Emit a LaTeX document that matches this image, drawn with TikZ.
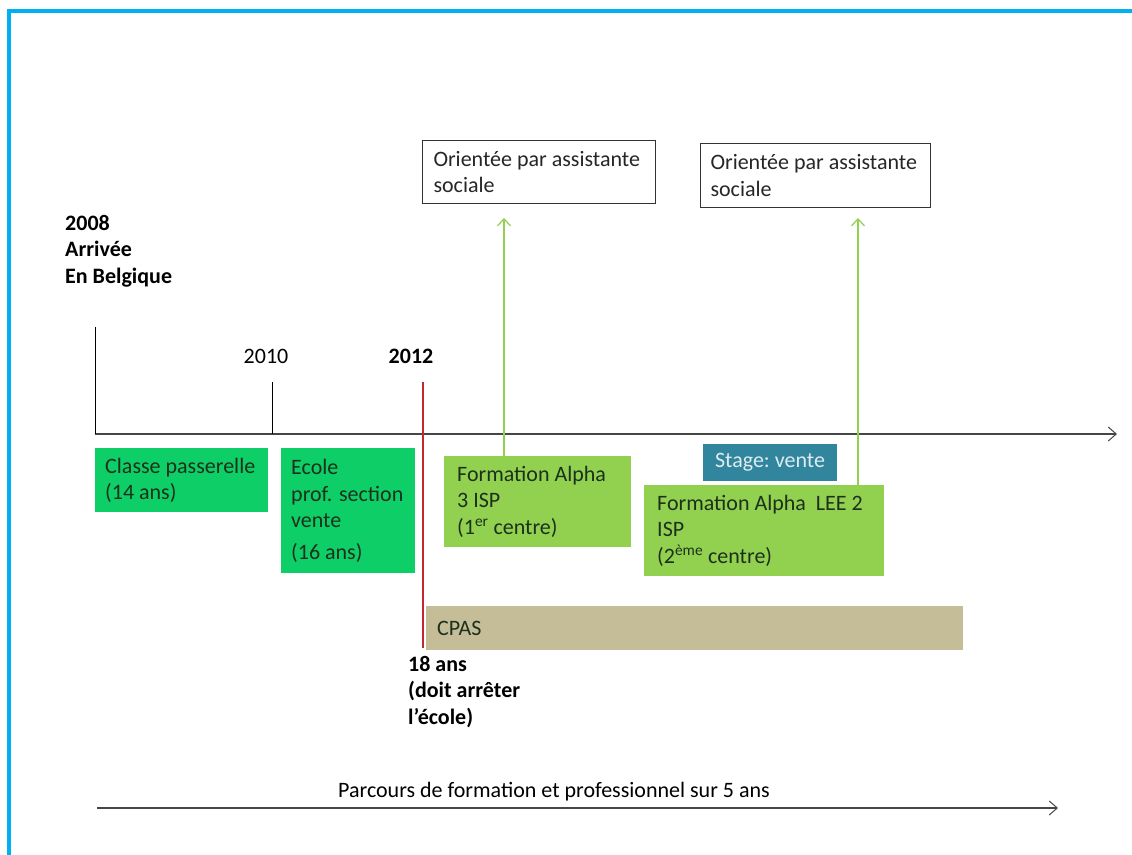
\documentclass[tikz,border=0pt]{standalone}
\usepackage{fontspec}
\setmainfont{Carlito}
\usetikzlibrary{arrows.meta}
\definecolor{frameblue}{RGB}{0,176,240}
\definecolor{greenA}{RGB}{14,206,104}
\definecolor{greenB}{RGB}{146,208,80}
\definecolor{tealbox}{RGB}{49,133,156}
\definecolor{tanbox}{RGB}{196,189,151}
\definecolor{axisgray}{RGB}{70,70,70}
\definecolor{boxtext}{RGB}{28,48,28}
\definecolor{stagetext}{RGB}{222,236,240}
\definecolor{redline}{RGB}{192,40,50}
\begin{document}
\begin{tikzpicture}[x=1pt,y=-1pt,
  font=\fontsize{22}{26.5}\selectfont,
  box/.style={anchor=north west, inner ysep=0pt, align=flush left, text=boxtext},
  note/.style={box, draw=black!80, line width=1pt, fill=white, text=black!85},
  label/.style={anchor=north west, inner sep=0pt, align=flush left},
  axisline/.style={draw=axisgray, line width=1.4pt},
  tick/.style={draw=black, line width=1pt},
  chev/.style={-{Straight Barb[length=8pt,width=14pt,line width=1pt]}},
  garrow/.style={draw=greenB, line width=1.2pt, -{Straight Barb[length=7pt,width=13pt]}}]
\useasboundingbox[fill=white] (0,0) rectangle (1132,854);

% page frame
\draw[frameblue, line width=4pt] (8.5,856) -- (8.5,10.5) -- (1134,10.5);

% main time axis
\coordinate (ax0) at (95,434);
\coordinate (ax1) at (1117,434);
\draw[axisline, chev] (ax0) -- (ax1);

% year markers
\coordinate (t08) at (95,327);
\draw[tick] (t08) -- (t08 |- ax0);
\node[label, font=\fontsize{22}{26.5}\selectfont\bfseries] (y2008) at (65,215)
  {2008\\Arrivée\\En Belgique};

\coordinate (t10) at (272,382);
\draw[tick] (t10) -- (t10 |- ax0);
\node[anchor=base] (y2010) at (266,363) {2010};

\coordinate (t12) at (423,382);
\coordinate (t12b) at (423,648);
\draw[draw=redline, line width=1.2pt] (t12) -- (t12b);
\node[anchor=base, font=\fontsize{22}{26.5}\selectfont\bfseries] (y2012) at (411,363) {2012};

% school periods
\node[box, fill=greenA, inner xsep=10pt, text width=153pt, minimum height=64pt]
  (classe) at (95,448) {Classe passerelle\\(14 ans)};
\node[box, fill=greenA, inner xsep=10pt, text width=114pt, minimum height=125pt]
  (ecole) at (281,448) {Ecole\\prof. section\\vente\\[5pt](16 ans)};

% trainings
\node[box, fill=greenB, inner xsep=13pt, text width=161pt, minimum height=91pt]
  (alpha1) at (444,456) {Formation Alpha\\3 ISP\\(1\textsuperscript{er} centre)};
\node[box, fill=greenB, inner xsep=13pt, text width=214pt, minimum height=91pt]
  (alpha2) at (644,485) {Formation Alpha\ \ LEE 2\\ISP\\(2\textsuperscript{ème} centre)};
\node[fill=tealbox, text=stagetext, inner sep=0pt, minimum width=134pt, minimum height=37pt]
  (stage) at (770,462.5) {Stage:\ vente};

% social support
\node[box, fill=tanbox, inner xsep=11pt, text width=515pt, minimum height=44pt]
  (cpas) at (426,606) {CPAS};
\node[label, font=\fontsize{22}{26.5}\selectfont\bfseries] (age18) at (408,656)
  {18 ans\\(doit arrêter\\l’école)};

% referrals
\node[note, inner xsep=11pt, text width=211pt, minimum height=63pt]
  (orient1) at (422,140) {Orientée par assistante\\sociale};
\node[note, inner xsep=10pt, text width=210pt, minimum height=64pt]
  (orient2) at (700,143) {Orientée par assistante\\sociale};
\coordinate (a1) at (504,218);
\coordinate (a2) at (858,218);
\draw[garrow] (a1 |- alpha1.north) -- (a1);
\draw[garrow] (a2 |- alpha2.north) -- (a2);

% overall span
\coordinate (p0) at (97,808);
\coordinate (p1) at (1058,808);
\draw[axisline, line width=1.2pt, chev] (p0) -- (p1);
\node[anchor=base] (span) at (554,797)
  {Parcours de formation et professionnel sur 5 ans};
\end{tikzpicture}
\end{document}
